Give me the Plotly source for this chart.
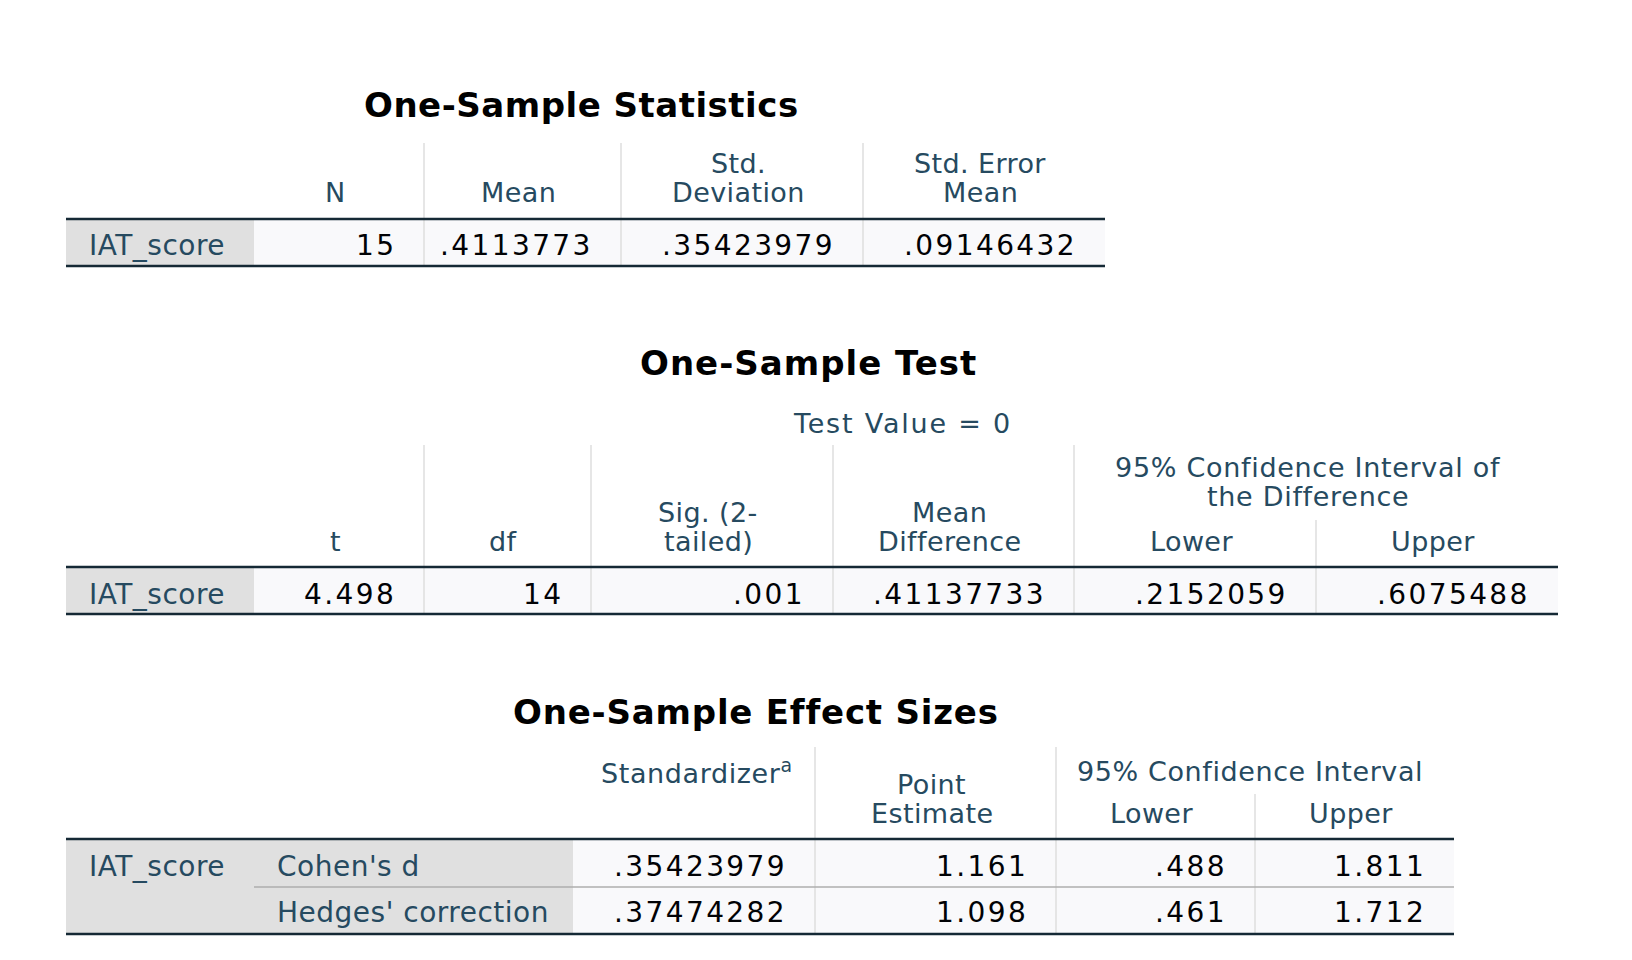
import plotly.graph_objects as go

# ---------------- data ----------------
stats_title = "One-Sample Statistics"
stats_headers = [["N"], ["Mean"], ["Std.", "Deviation"], ["Std. Error", "Mean"]]
stats_row_label = "IAT_score"
stats_values = ["15", ".4113773", ".35423979", ".09146432"]

test_title = "One-Sample Test"
test_value_label = "Test Value = 0"
test_headers = [["t"], ["df"], ["Sig. (2-", "tailed)"], ["Mean", "Difference"], ["Lower"], ["Upper"]]
test_ci_label = ["95% Confidence Interval of", "the Difference"]
test_row_label = "IAT_score"
test_values = ["4.498", "14", ".001", ".41137733", ".2152059", ".6075488"]

effect_title = "One-Sample Effect Sizes"
effect_headers = [["Standardizer<sup>a</sup>"], ["Point", "Estimate"], ["Lower"], ["Upper"]]
effect_ci_label = "95% Confidence Interval"
effect_row_label = "IAT_score"
effect_measures = ["Cohen's d", "Hedges' correction"]
effect_standardizer = [".35423979", ".37474282"]
effect_point = ["1.161", "1.098"]
effect_lower = [".488", ".461"]
effect_upper = ["1.811", "1.712"]

# ---------------- style ----------------
W, H = 1632, 960
OFF = 8  # page body margin
FONT = "DejaVu Sans"
HEAD_C = "#264a60"
TEXT_C = "#010205"
LABEL_BG = "#e0e0e0"
CELL_BG = "#f9f9fb"
RULE_C = "#152935"
GRID_C = "#dedede"
DIV_C = "#aeaeae"
TITLE_SIZE = 34
HEAD_SIZE = 27
DATA_SIZE = 28
PAD = 29

shapes = []
anns = []


def rect(x0, y0, x1, y1, color):
    shapes.append(dict(type="rect", xref="x", yref="y", x0=x0, y0=y0, x1=x1, y1=y1,
                       fillcolor=color, line=dict(width=0), layer="below"))


def hline(x0, x1, y, color, width):
    shapes.append(dict(type="line", xref="x", yref="y", x0=x0, y0=y, x1=x1, y1=y,
                       line=dict(color=color, width=width)))


def vline(x, y0, y1, color=GRID_C, width=1.5):
    shapes.append(dict(type="line", xref="x", yref="y", x0=x, y0=y0, x1=x, y1=y1,
                       line=dict(color=color, width=width)))


def txt(x, y, s, size, color, anchor="center", bold=False, ls=0.5):
    anns.append(dict(x=x, y=y, xref="x", yref="y", showarrow=False,
                     text=f'<span style="letter-spacing:{ls}px">{s}</span>',
                     xanchor=anchor, yanchor="middle",
                     font=dict(family=FONT, size=size, color=color,
                               weight=700 if bold else 400)))


def header(cx, ybottom, lines, step=29, ls=0.4):
    n = len(lines)
    for i, s in enumerate(lines):
        txt(cx, ybottom - (n - 1 - i) * step, s, HEAD_SIZE, HEAD_C, ls=ls)


def num(xr, y, s):
    txt(xr - PAD + 3, y, s, DATA_SIZE, TEXT_C, anchor="right", ls=2.4)


def label(x, y, s):
    txt(x, y, s, DATA_SIZE, HEAD_C, anchor="left", ls=0.5)


# ---------------- table 1 ----------------
L1, R1 = 66, 1105
C1 = [254, 424, 621, 863, R1]
V1, HL1, B1 = 143, 219, 266
ROW1 = 245

txt(581, 105, stats_title, TITLE_SIZE, "#000000", bold=True, ls=0.5)
rect(L1, HL1, C1[0], B1, LABEL_BG)
rect(C1[0], HL1, R1, B1, CELL_BG)
for x in C1[1:-1]:
    vline(x, V1, B1)
for i, h in enumerate(stats_headers):
    header((C1[i] + C1[i + 1]) / 2 - 4, 192, h)
label(L1 + 21, ROW1, stats_row_label)
for i, v in enumerate(stats_values):
    num(C1[i + 1], ROW1, v)
hline(L1, R1, HL1, RULE_C, 2.5)
hline(L1, R1, B1, RULE_C, 2.5)

# ---------------- table 2 ----------------
L2, R2 = 66, 1558
C2 = [254, 424, 591, 833, 1074, 1316, R2]
V2, VS2, HL2, B2 = 445, 520, 567, 614
ROW2 = 594

txt(808, 363, test_title, TITLE_SIZE, "#000000", bold=True, ls=1)
txt(902, 423, test_value_label, HEAD_SIZE, HEAD_C, ls=1.8)
rect(L2, HL2, C2[0], B2, LABEL_BG)
rect(C2[0], HL2, R2, B2, CELL_BG)
for x in C2[1:5]:
    vline(x, V2, B2)
vline(C2[5], VS2, B2)
for i, h in enumerate(test_headers):
    header((C2[i] + C2[i + 1]) / 2 - 4, 541, h)
header((C2[4] + R2) / 2 - 8, 496, test_ci_label, ls=0.7)
label(L2 + 21, ROW2, test_row_label)
for i, v in enumerate(test_values):
    num(C2[i + 1], ROW2, v)
hline(L2, R2, HL2, RULE_C, 2.5)
hline(L2, R2, B2, RULE_C, 2.5)

# ---------------- table 3 ----------------
L3, R3 = 66, 1454
LAB3 = 254
C3 = [573, 815, 1056, 1255, R3]
V3, VS3, HL3, MID3, B3 = 747, 794, 839, 887, 934
ROWS3 = [866, 912]

txt(756, 712, effect_title, TITLE_SIZE, "#000000", bold=True, ls=0.8)
rect(L3, HL3, C3[0], B3, LABEL_BG)
rect(C3[0], HL3, R3, B3, CELL_BG)
for x in C3[1:3]:
    vline(x, V3, B3)
vline(C3[3], VS3, B3)
txt((C3[0] + C3[1]) / 2 + 3, 771, effect_headers[0][0], HEAD_SIZE, HEAD_C, ls=0.6)
header((C3[1] + C3[2]) / 2 - 4, 813, effect_headers[1])
header((C3[2] + C3[3]) / 2 - 4, 813, effect_headers[2])
header((C3[3] + C3[4]) / 2 - 4, 813, effect_headers[3])
txt((C3[2] + R3) / 2 - 5, 771, effect_ci_label, HEAD_SIZE, HEAD_C, ls=0.6)
label(L3 + 21, ROWS3[0], effect_row_label)
cols3 = [effect_standardizer, effect_point, effect_lower, effect_upper]
for r, y in enumerate(ROWS3):
    label(LAB3 + 21, y, effect_measures[r])
    for c, col in enumerate(cols3):
        num(C3[c + 1], y, col[r])
hline(LAB3, R3, MID3, DIV_C, 1.5)
hline(L3, R3, HL3, RULE_C, 2.5)
hline(L3, R3, B3, RULE_C, 2.5)

fig = go.Figure()
fig.update_layout(
    width=W - OFF, height=H - OFF,
    margin=dict(l=0, r=0, t=0, b=0),
    paper_bgcolor="white", plot_bgcolor="white",
    xaxis=dict(range=[OFF, W], visible=False, fixedrange=True),
    yaxis=dict(range=[H, OFF], visible=False, fixedrange=True),
    shapes=shapes, annotations=anns, showlegend=False,
)
fig.write_html("out.html")
